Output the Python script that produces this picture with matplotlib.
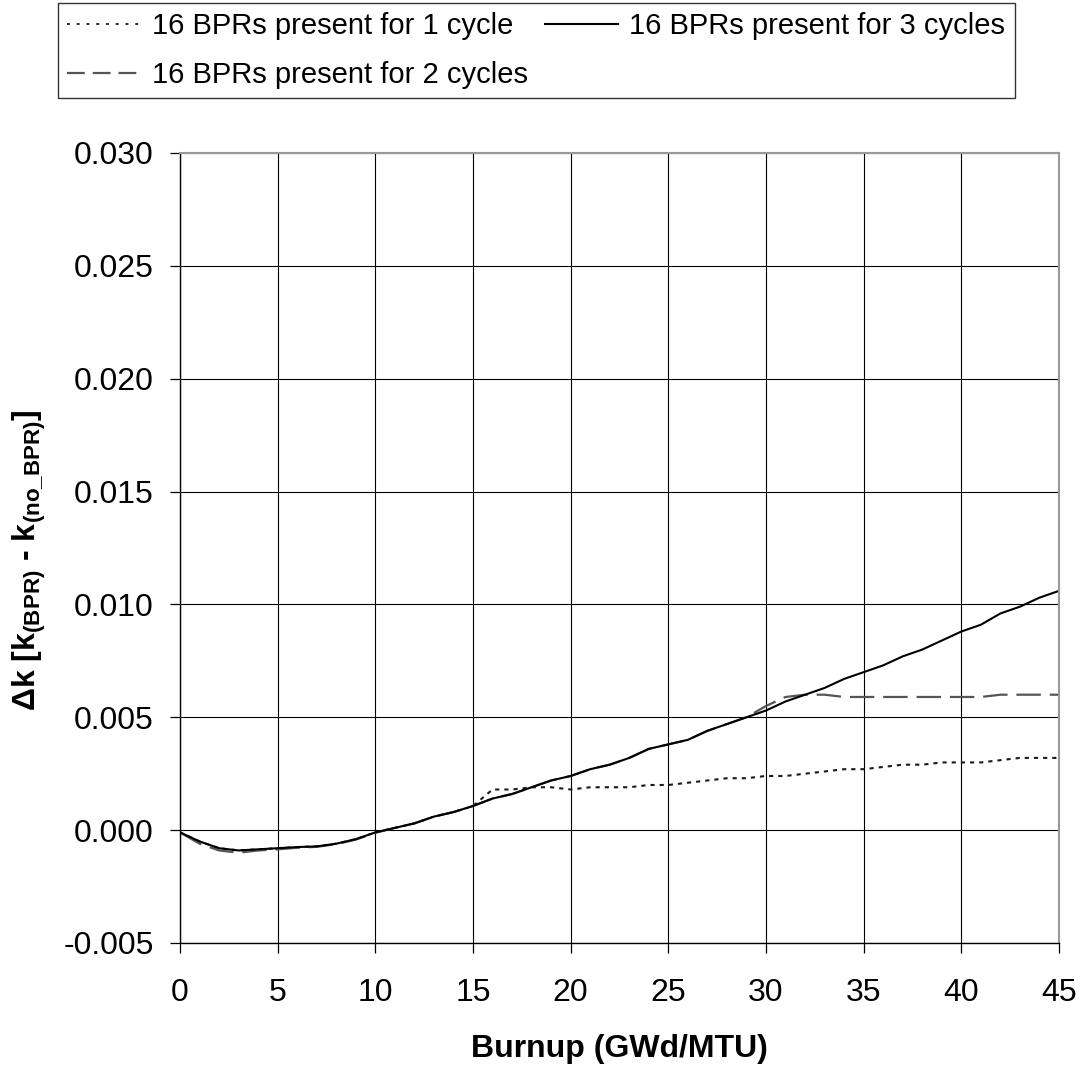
import matplotlib
matplotlib.use("Agg")
import matplotlib.pyplot as plt
from matplotlib.lines import Line2D

plt.rcParams['font.family'] = ['Liberation Sans', 'DejaVu Sans']
plt.rcParams['mathtext.default'] = 'regular'

# Burnup steps (GWd/MTU)
burnup = list(range(0, 46))

# Delta-k for BPRs present for 1, 2 and 3 cycles
dk_1cycle = [-0.0001, -0.0005, -0.0008, -0.0009, -0.00085, -0.0008, -0.00075, -0.00072,
             -0.0006, -0.0004, -0.0001, 0.0001, 0.0003, 0.0006, 0.0008, 0.00107,
             0.0018, 0.0018, 0.0019, 0.0019, 0.0018, 0.0019, 0.0019, 0.0019,
             0.0020, 0.0020, 0.0021, 0.0022, 0.0023, 0.0023, 0.0024, 0.0024,
             0.0025, 0.0026, 0.0027, 0.0027, 0.0028, 0.0029, 0.0029, 0.0030,
             0.0030, 0.0030, 0.0031, 0.0032, 0.0032, 0.0032]

dk_2cycle = [-0.0001, -0.0006, -0.0009, -0.0010, -0.0009, -0.00085, -0.00078, -0.00074,
             -0.00062, -0.00042, -0.00012, 0.0001, 0.0003, 0.0006, 0.0008, 0.00107,
             0.0014, 0.0016, 0.0019, 0.0022, 0.0024, 0.0027, 0.0029, 0.0032,
             0.0036, 0.0038, 0.0040, 0.0044, 0.0047, 0.0050, 0.0055, 0.0059,
             0.0060, 0.0060, 0.0059, 0.0059, 0.0059, 0.0059, 0.0059, 0.0059,
             0.0059, 0.0059, 0.0060, 0.0060, 0.0060, 0.0060]

dk_3cycle = [-0.0001, -0.0005, -0.0008, -0.0009, -0.00085, -0.0008, -0.00075, -0.00072,
             -0.0006, -0.0004, -0.0001, 0.0001, 0.0003, 0.0006, 0.0008, 0.00107,
             0.0014, 0.0016, 0.0019, 0.0022, 0.0024, 0.0027, 0.0029, 0.0032,
             0.0036, 0.0038, 0.0040, 0.0044, 0.0047, 0.0050, 0.0053, 0.0057,
             0.0060, 0.0063, 0.0067, 0.0070, 0.0073, 0.0077, 0.0080, 0.0084,
             0.0088, 0.0091, 0.0096, 0.0099, 0.0103, 0.0106]

labels = ["16 BPRs present for 1 cycle",
          "16 BPRs present for 2 cycles",
          "16 BPRs present for 3 cycles"]

xticks = list(range(0, 50, 5))
yticks = [-0.005, 0.000, 0.005, 0.010, 0.015, 0.020, 0.025, 0.030]

fig = plt.figure(figsize=(10.84, 10.67), dpi=100)
ax = fig.add_axes([180/1084, 1 - 943/1067, (1059 - 180)/1084, (943 - 153)/1067])

ax.plot(burnup, dk_1cycle, color='#1a1a1a', lw=1.5, linestyle=(0, (2.0, 2.4)))
ax.plot(burnup, dk_2cycle, color='#555555', lw=1.6, linestyle=(0, (11, 4)))
ax.plot(burnup, dk_3cycle, color='black', lw=1.5, linestyle='-')

ax.set_xlim(0, 45)
ax.set_ylim(-0.005, 0.030)
ax.set_xticks(xticks)
ax.set_yticks(yticks)
ax.set_xticklabels([str(v) for v in xticks])
ax.set_yticklabels([f"{v:.3f}" for v in yticks])
ax.grid(True, color='black', lw=0.8)
ax.set_axisbelow(True)

for side in ('top', 'right'):
    ax.spines[side].set_color('#999999')
    ax.spines[side].set_linewidth(1.5)
for side in ('left', 'bottom'):
    ax.spines[side].set_color('black')
    ax.spines[side].set_linewidth(1.0)

ax.tick_params(axis='both', direction='out', length=7, width=0.9,
               labelsize=23, colors='black')
ax.tick_params(axis='x', pad=18)
ax.tick_params(axis='y', pad=12)

ax.set_xlabel("Burnup (GWd/MTU)", fontsize=23, fontweight='bold', labelpad=19)
ax.set_ylabel(r"$\Delta$k [k$_{(BPR)}$ - k$_{(no\_BPR)}$]", fontsize=23,
              fontweight='bold')
ax.yaxis.set_label_coords((48 - 180) / 879, 0.485)

# Legend keys with shorter dash patterns
legend_handles = [
    Line2D([], [], color='#1a1a1a', lw=1.3, linestyle=(0, (1.6, 3.8))),
    Line2D([], [], color='#555555', lw=1.6, linestyle=(0, (8, 3.6))),
    Line2D([], [], color='black', lw=1.5, linestyle='-'),
]
leg = fig.legend(legend_handles, labels, loc='upper left', ncol=2,
                 bbox_to_anchor=(58/1084, 1 - 3/1067), borderaxespad=0,
                 fontsize=21, frameon=True, fancybox=False, edgecolor='black',
                 handlelength=2.5, handletextpad=0.4, columnspacing=0.58,
                 labelspacing=0.7, borderpad=0.32)
leg.get_frame().set_linewidth(1.0)

fig.savefig("out.png", dpi=100)
